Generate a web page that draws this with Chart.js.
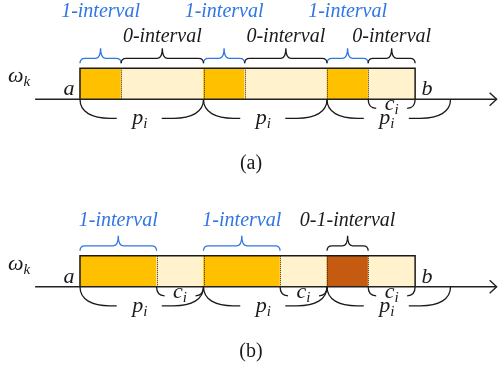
<!DOCTYPE html>
<html>
<head>
<meta charset="utf-8">
<script src="https://cdn.jsdelivr.net/npm/chart.js@4.4.1/dist/chart.umd.min.js"></script>
<style>
  html, body { margin: 0; padding: 0; background: #fff; }
  #wrap { width: 498px; height: 368px; position: relative; }
</style>
</head>
<body>
<div id="wrap"><canvas id="c" width="498" height="368"></canvas></div>
<script>
// ---- data (x in units of one third of a period p_i) ----
const panelLabels = ['(a)', '(b)'];
const rowValues = [1, 2];

const segmentsA = [[0, 1], [1, 3], [3, 4], [4, 6], [6, 7], [7, 8.14]];
const kindsA    = ['one', 'zero', 'one', 'zero', 'one', 'zero'];
const segmentsB = [[0, 1.86], [1.86, 3], [3, 4.86], [4.86, 6], [6, 7], [7, 8.14]];
const kindsB    = ['one', 'zero', 'one', 'zero', 'zeroOne', 'zero'];

const oneBracesA  = [[0, 1], [3, 4], [6, 7]];
const zeroBracesA = [[1, 3], [4, 6], [7, 8.14]];
const oneBracesB  = [[0, 1.86], [3, 4.86]];
const zeroOneBracesB = [[6, 7]];

const periodBraces = [[0, 3], [3, 6], [6, 9]];
const cBracesA = [[7, 8.14]];
const cBracesB = [[1.86, 3], [4.86, 6], [7, 8.14]];

const endpointsX = [0, 8.14];
const endpointNames = ['a', 'b'];
const axisRange = [-1.09, 10.12];

const labelOne = '1-interval';
const labelZero = '0-interval';
const labelZeroOne = '0-1-interval';

// ---- styles ----
const kindColors = { one: '#FFC000', zero: '#FFF2CC', zeroOne: '#C55A11' };
const BLUE = '#2F76E4';
const INK = '#1a1a1a';
const TXT_IT = 'italic 20px "Liberation Serif", "DejaVu Serif", serif';
const MATH = 'italic 22px "Liberation Serif", "DejaVu Serif", serif';
const MATH_SUB = 'italic 15px "Liberation Serif", "DejaVu Serif", serif';
const PANEL_FONT = '20px "Liberation Serif", "DejaVu Serif", serif';

function toPoints(segs, row) { return segs.map(s => ({ x: s, y: row })); }

const rows = [
  { segs: segmentsA, kinds: kindsA,
    top: [ { list: oneBracesA, label: labelOne, color: BLUE, base: 51 },
           { list: zeroBracesA, label: labelZero, color: INK, base: 26 } ],
    cBr: cBracesA },
  { segs: segmentsB, kinds: kindsB,
    top: [ { list: oneBracesB, label: labelOne, color: BLUE, base: 30 },
           { list: zeroOneBracesB, label: labelZeroOne, color: INK, base: 30 } ],
    cBr: cBracesB }
];

function braceUp(ctx, x1, x2, yEnd) {
  const yh = yEnd - 5, tip = yEnd - 15, xm = (x1 + x2) / 2, r = 5;
  ctx.beginPath();
  ctx.moveTo(x1, yEnd);
  ctx.quadraticCurveTo(x1, yh, x1 + r, yh);
  ctx.lineTo(xm - r, yh);
  ctx.quadraticCurveTo(xm, yh, xm, tip);
  ctx.quadraticCurveTo(xm, yh, xm + r, yh);
  ctx.lineTo(x2 - r, yh);
  ctx.quadraticCurveTo(x2, yh, x2, yEnd);
  ctx.stroke();
}
function periodBrace(ctx, x1, x2, y0) {
  const xm = (x1 + x2) / 2, yb = y0 + 19;
  ctx.beginPath();
  ctx.moveTo(x1, y0);
  ctx.bezierCurveTo(x1, y0 + 13, x1 + 12, yb, x1 + 30, yb);
  ctx.lineTo(xm - 25, yb);
  ctx.moveTo(x2, y0);
  ctx.bezierCurveTo(x2, y0 + 13, x2 - 12, yb, x2 - 30, yb);
  ctx.lineTo(xm + 20, yb);
  ctx.stroke();
}
function cBrace(ctx, x1, x2, y0) {
  const d = 9;
  ctx.beginPath();
  ctx.moveTo(x1, y0);
  ctx.quadraticCurveTo(x1, y0 + d, x1 + 8, y0 + d);
  ctx.moveTo(x2, y0);
  ctx.quadraticCurveTo(x2, y0 + d, x2 - 8, y0 + d);
  ctx.stroke();
}
function subText(ctx, base, sub, cx, baseline, align) {
  ctx.font = MATH;
  const w1 = ctx.measureText(base).width;
  ctx.font = MATH_SUB;
  const w2 = ctx.measureText(sub).width;
  const start = align === 'left' ? cx : cx - (w1 + w2) / 2;
  ctx.textAlign = 'left';
  ctx.font = MATH;
  ctx.fillText(base, start, baseline);
  ctx.font = MATH_SUB;
  ctx.fillText(sub, start + w1, baseline + 4);
}

const diagramPlugin = {
  id: 'diagram',
  afterDatasetsDraw(chart) {
    const { ctx, scales: { x, y } } = chart;
    ctx.save();
    ctx.textBaseline = 'alphabetic';
    rows.forEach((row, r) => {
      const els = chart.getDatasetMeta(r).data;
      const topY = Math.min(...els.map(e => e.y - e.height / 2));
      const botY = Math.max(...els.map(e => e.y + e.height / 2));
      const left = x.getPixelForValue(row.segs[0][0]);
      const right = x.getPixelForValue(row.segs[row.segs.length - 1][1]);

      // dotted dividers
      ctx.strokeStyle = '#3a2a00';
      ctx.lineWidth = 1;
      ctx.setLineDash([1, 1]);
      for (let i = 1; i < row.segs.length; i++) {
        const px = Math.round(x.getPixelForValue(row.segs[i][0])) + 0.5;
        ctx.beginPath(); ctx.moveTo(px, topY); ctx.lineTo(px, botY); ctx.stroke();
      }
      ctx.setLineDash([]);

      // outline
      ctx.strokeStyle = INK;
      ctx.lineWidth = 1.5;
      ctx.beginPath();
      ctx.moveTo(left, botY); ctx.lineTo(left, topY); ctx.lineTo(right, topY); ctx.lineTo(right, botY);
      ctx.stroke();

      // axis with arrow
      const ax1 = x.getPixelForValue(axisRange[0]), ax2 = x.getPixelForValue(axisRange[1]);
      ctx.strokeStyle = '#222';
      ctx.lineWidth = 1.4;
      ctx.beginPath(); ctx.moveTo(ax1, botY); ctx.lineTo(ax2, botY); ctx.stroke();
      ctx.beginPath(); ctx.moveTo(ax2 - 7, botY - 6.5); ctx.lineTo(ax2, botY); ctx.lineTo(ax2 - 7, botY + 6.5); ctx.stroke();

      // top braces + labels
      ctx.lineWidth = 1.3;
      row.top.forEach(g => {
        ctx.strokeStyle = g.color;
        ctx.fillStyle = g.color;
        g.list.forEach(b => {
          const x1 = x.getPixelForValue(b[0]), x2 = x.getPixelForValue(b[1]);
          braceUp(ctx, x1, x2, topY - 5);
          ctx.font = TXT_IT;
          ctx.textAlign = 'center';
          ctx.fillText(g.label, (x1 + x2) / 2, topY - g.base);
        });
      });

      // period braces
      ctx.strokeStyle = INK;
      ctx.fillStyle = INK;
      ctx.lineWidth = 1.3;
      periodBraces.forEach(b => {
        const x1 = x.getPixelForValue(b[0]), x2 = x.getPixelForValue(b[1]);
        periodBrace(ctx, x1, x2, botY);
        subText(ctx, 'p', 'i', (x1 + x2) / 2 - 2, botY + 25);
      });
      // c braces
      row.cBr.forEach(b => {
        const x1 = x.getPixelForValue(b[0]), x2 = x.getPixelForValue(b[1]);
        cBrace(ctx, x1, x2, botY);
        subText(ctx, 'c', 'i', (x1 + x2) / 2, botY + 11);
      });

      // endpoint names
      ctx.font = MATH;
      ctx.textAlign = 'center';
      endpointNames.forEach((nm, i) => {
        const px = x.getPixelForValue(endpointsX[i]);
        ctx.fillText(nm, px + (i === 0 ? -11 : 12), botY - 4);
      });
      // omega_k
      subText(ctx, 'ω', 'k', 8, botY - 17, 'left');

      // panel label
      ctx.font = PANEL_FONT;
      ctx.textAlign = 'center';
      ctx.fillText(panelLabels[r], 251, botY + 70);
    });
    ctx.restore();
  }
};

new Chart(document.getElementById('c'), {
  type: 'bar',
  data: {
    datasets: rows.map((row, r) => ({
      label: panelLabels[r],
      data: toPoints(row.segs, rowValues[r]),
      backgroundColor: row.kinds.map(k => kindColors[k]),
      borderWidth: 0,
      barThickness: 31,
      grouped: false
    }))
  },
  options: {
    indexAxis: 'y',
    responsive: false,
    animation: false,
    events: [],
    layout: { padding: 0 },
    plugins: { legend: { display: false }, tooltip: { enabled: false } },
    scales: {
      x: { type: 'linear', min: -1.943, max: 10.153, display: false },
      y: { type: 'linear', min: 0.5531, max: 2.5158, reverse: true, offset: false, display: false }
    }
  },
  plugins: [diagramPlugin]
});
</script>
</body>
</html>
